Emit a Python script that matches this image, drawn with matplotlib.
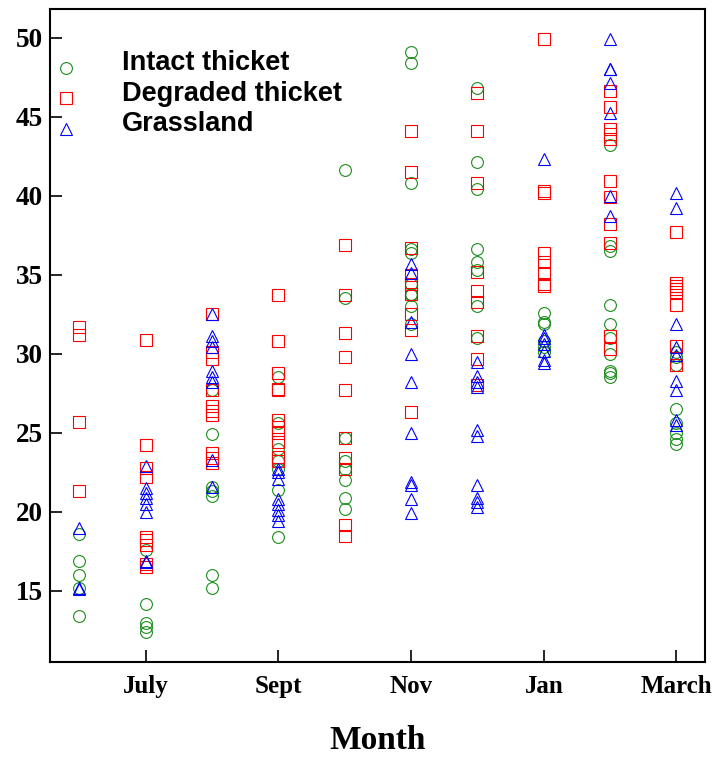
import matplotlib.pyplot as plt
import matplotlib.transforms as mtransforms

# month order along the x axis (June through March)
months = ['June', 'July', 'Aug', 'Sept', 'Oct', 'Nov', 'Dec', 'Jan', 'Feb', 'March']
tick_months = ['July', 'Sept', 'Nov', 'Jan', 'March']
yticks = [15, 20, 25, 30, 35, 40, 45, 50]

# values per month for each habitat
intact = [
    [18.6, 16.9, 16.0, 15.2, 13.4],
    [17.6, 14.2, 13.0, 12.7, 12.4],
    [27.7, 24.9, 21.6, 21.3, 21.0, 16.0, 15.2],
    [28.5, 25.6, 24.0, 23.2, 22.7, 21.4, 18.4],
    [41.6, 33.5, 24.7, 23.2, 22.7, 22.0, 20.9, 20.2],
    [49.1, 48.4, 40.8, 36.6, 36.4, 34.4, 33.8, 33.7, 33.0, 31.9],
    [46.8, 42.1, 40.4, 36.6, 35.8, 35.3, 33.0, 31.0],
    [32.6, 32.0, 31.9, 30.8, 30.4, 30.1],
    [43.2, 36.8, 36.5, 33.1, 31.9, 31.0, 30.0, 28.9, 28.8, 28.5],
    [30.1, 29.8, 29.3, 26.5, 25.6, 25.0, 24.6, 24.3],
]
degraded = [
    [31.7, 31.2, 25.7, 21.3],
    [30.9, 24.2, 22.8, 22.2, 18.4, 18.2, 17.9, 16.7, 16.5],
    [32.5, 30.1, 29.7, 27.7, 26.7, 26.4, 26.1, 23.7, 23.4, 23.1],
    [33.7, 30.8, 28.8, 27.8, 27.7, 25.8, 25.4, 25.0, 24.4, 23.5, 23.2],
    [36.9, 33.7, 31.3, 29.8, 27.7, 24.7, 23.4, 22.7, 19.2, 18.5],
    [44.1, 41.5, 36.7, 35.0, 34.4, 33.8, 32.5, 31.5, 26.3],
    [46.5, 44.1, 40.8, 35.2, 34.0, 33.3, 31.1, 29.7, 28.0],
    [49.9, 40.3, 40.2, 36.4, 35.8, 35.1, 34.4, 34.3],
    [46.6, 45.6, 44.2, 43.9, 43.6, 40.9, 39.9, 38.2, 37.0, 31.1, 30.3],
    [37.7, 34.5, 34.3, 34.1, 33.9, 33.1, 30.5, 29.3],
]
grassland = [
    [19.0, 15.2, 15.1],
    [22.9, 21.5, 21.2, 20.9, 20.5, 20.0, 16.9, 16.8],
    [32.5, 31.1, 30.8, 30.4, 28.9, 28.5, 28.2, 23.3, 21.6],
    [22.7, 22.5, 22.1, 20.8, 20.5, 20.1, 19.8, 19.4],
    [],
    [35.7, 35.1, 32.0, 30.0, 28.2, 25.0, 21.9, 21.7, 20.8, 19.9],
    [29.5, 28.6, 28.2, 27.9, 25.2, 24.8, 21.7, 20.9, 20.6, 20.3],
    [42.3, 31.2, 31.0, 30.6, 30.2, 29.6, 29.4],
    [49.9, 48.0, 48.0, 47.1, 45.2, 40.0, 38.7],
    [40.2, 39.2, 31.9, 30.4, 29.9, 28.3, 27.7, 25.8, 25.5],
]

series = [
    ('Intact thicket', intact, 'o', '#1a8c1a'),
    ('Degraded thicket', degraded, 's', '#ff0000'),
    ('Grassland', grassland, '^', '#0000ff'),
]

fig = plt.figure(figsize=(7.12, 7.61), dpi=100)
ax = fig.add_axes([0.0702, 0.130, 0.920, 0.858])

for label, data, marker, color in series:
    xs, ys = [], []
    for i, vals in enumerate(data):
        xs += [i] * len(vals)
        ys += vals
    ax.plot(xs, ys, linestyle='none', marker=marker, markersize=8.5,
            markerfacecolor='none', markeredgecolor=color,
            markeredgewidth=0.8, label=label)

ax.set_xlim(-0.44, 9.43)
ax.set_ylim(10.5, 51.8)

ax.set_xticks([months.index(m) for m in tick_months])
ax.set_xticklabels(tick_months)
ax.set_yticks(yticks)
ax.set_yticklabels([str(v) for v in yticks])

for lab in ax.get_xticklabels():
    lab.set_family('Liberation Serif')
    lab.set_fontweight('bold')
    lab.set_fontsize(18)
for lab in ax.get_yticklabels():
    lab.set_family('Liberation Serif')
    lab.set_fontweight('bold')
    lab.set_fontsize(19.5)

ax.tick_params(axis='both', direction='in', length=8.5, width=1.2)
ax.tick_params(axis='x', pad=9)
ax.tick_params(axis='y', pad=5)
for sp in ax.spines.values():
    sp.set_linewidth(1.5)

ax.set_xlabel('Month', family='Liberation Serif', fontweight='bold',
              fontsize=24, labelpad=20)

leg = ax.legend(loc='upper left', bbox_to_anchor=(0.0, 0.937),
                frameon=False, borderpad=0, borderaxespad=0,
                handlelength=1.0, handletextpad=1.65, labelspacing=0.17,
                numpoints=1, prop={'family': 'Liberation Sans',
                                   'weight': 'bold', 'size': 19.5})
# legend symbols sit a little below their labels
for h in leg.legend_handles:
    h.set_transform(h.get_transform() + mtransforms.Affine2D().translate(2, -7))

fig.savefig('out.png', dpi=100)
